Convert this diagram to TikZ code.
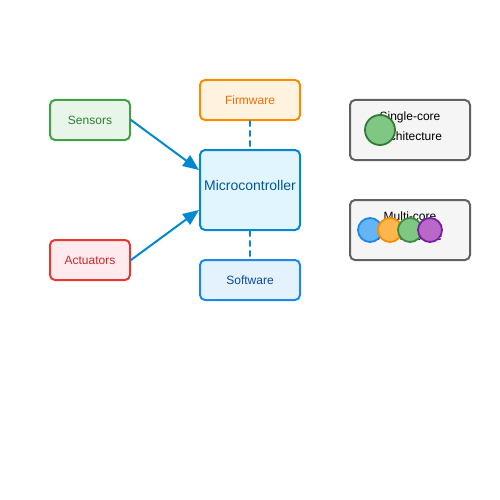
\documentclass[tikz,border=0pt]{standalone}
\usepackage{fontspec}
\setmainfont{Liberation Sans}
\usetikzlibrary{arrows.meta}
\definecolor{mculine}{HTML}{0288D1}
\begin{document}
\begin{tikzpicture}[x=1pt, y=-1pt, font=\fontsize{12}{14}\selectfont, line join=round, line cap=round,>={Triangle[length=16pt,width=13pt]},
	box/.style={draw, line width=2pt, rounded corners=5pt, minimum width=80pt, minimum height=40pt, inner sep=0pt},
	archbox/.style={draw=black!62, fill=black!4, line width=2pt, rounded corners=5pt, minimum width=120pt, minimum height=60pt, inner sep=0pt, align=center, font=\fontsize{12}{20}\selectfont, text depth=7pt},
	core/.style={line width=1.8pt}]
	\useasboundingbox (0,0) rectangle (500,500);
	\path
	(90,120) coordinate (S)
	(90,260) coordinate (A)
	(250,100) coordinate (F)
	(250,190) coordinate (M)
	(250,280) coordinate (W)
	(410,130) coordinate (P)
	(410,230) coordinate (Q)
	;
	\node[box, draw={rgb,255:red,67;green,160;blue,71}, fill={rgb,255:red,232;green,245;blue,233}, text={rgb,255:red,46;green,125;blue,50}] (sensors) at (S) {Sensors};
	\node[box, draw={rgb,255:red,229;green,57;blue,53}, fill={rgb,255:red,255;green,235;blue,238}, text={rgb,255:red,198;green,40;blue,40}] (actuators) at (A) {Actuators};
	\node[box, minimum width=100pt, draw={rgb,255:red,251;green,140;blue,0}, fill={rgb,255:red,255;green,243;blue,224}, text={rgb,255:red,239;green,108;blue,0}] (firmware) at (F) {Firmware};
	\node[box, minimum width=100pt, minimum height=80pt, draw=mculine, fill={rgb,255:red,225;green,245;blue,254}, text={rgb,255:red,1;green,87;blue,155}, font=\fontsize{14}{16}\selectfont, text height=10pt, text depth=9pt] (mcu) at (M) {Microcontroller};
	\node[box, minimum width=100pt, draw={rgb,255:red,30;green,136;blue,229}, fill={rgb,255:red,227;green,242;blue,253}, text={rgb,255:red,13;green,71;blue,161}] (software) at (W) {Software};
	\draw[->, mculine, line width=2pt] (sensors.east) -- ([yshift=20pt]mcu.west);
	\draw[->, mculine, line width=2pt] (actuators.east) -- ([yshift=-20pt]mcu.west);
	\draw[mculine, line width=2pt, dash pattern=on 5pt off 5pt] (firmware.south) -- (mcu.north);
	\draw[mculine, line width=2pt, dash pattern=on 5pt off 5pt] (mcu.south) -- (software.north);
	% architectures
	\node[archbox] (single) at (P) {Single-core\\Architecture};
	\node[archbox] (multi) at (Q) {Multi-core\\Architecture};
	\definecolor{corefill}{HTML}{81C784}
	\definecolor{coreline}{HTML}{2E7D32}
	\draw[core, draw=coreline, fill=corefill] (380,130) circle (15);
	\foreach \x/\f/\d in {370/64B5F6/1E88E5, 390/FFB74D/FB8C00, 410/81C784/388E3C, 430/BA68C8/7B1FA2}
	{\definecolor{corefill}{HTML}{\f}\definecolor{coreline}{HTML}{\d}
	\draw[core, draw=coreline, fill=corefill] (\x,230) circle (12);}
\end{tikzpicture}
\end{document}
